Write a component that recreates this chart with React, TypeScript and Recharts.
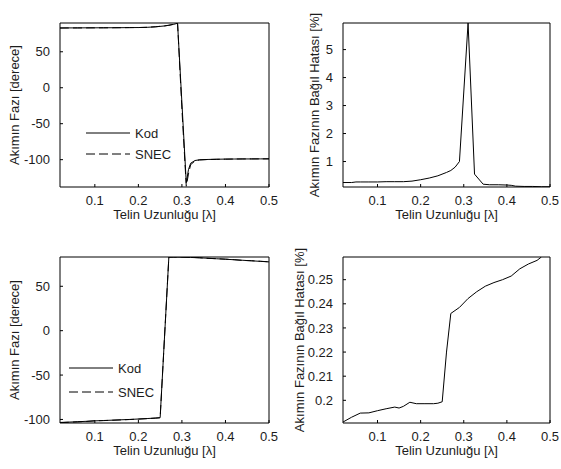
import { LineChart, Line, XAxis, YAxis, Legend, Label } from "recharts";

const FONT = "Arial, 'Liberation Sans', Helvetica, sans-serif";
const W = 561;
const H = 469;
const AX = 40;
const INK = "#1c1c1c";

// wire length [lambda] and values
const xTicks = [0.1, 0.2, 0.3, 0.4, 0.5];

const phaseAX = [0.02, 0.04, 0.06, 0.08, 0.1, 0.12, 0.14, 0.16, 0.18, 0.2, 0.22, 0.24, 0.26, 0.27, 0.28, 0.29, 0.3, 0.31, 0.315, 0.32, 0.33, 0.34, 0.36, 0.38, 0.4, 0.42, 0.44, 0.46, 0.48, 0.5];
const phaseAKod = [83.1, 83.2, 83.2, 83.3, 83.3, 83.4, 83.4, 83.5, 83.6, 83.7, 84.0, 84.7, 85.9, 86.8, 88.0, 89.6, -21, -132, -114, -105, -101.2, -100.2, -99.7, -99.4, -99.2, -99.1, -99.0, -99.0, -98.9, -98.9];
const phaseASnec = [83.0, 83.1, 83.2, 83.2, 83.3, 83.3, 83.4, 83.5, 83.6, 83.7, 84.0, 84.8, 86.0, 86.9, 88.2, 89.8, -30, -137, -120, -107, -101.8, -100.4, -99.8, -99.5, -99.3, -99.1, -99.0, -98.9, -98.9, -98.8];
const phaseTicks = [-100, -50, 0, 50];

const errAX = [0.02, 0.04, 0.05, 0.06, 0.08, 0.1, 0.12, 0.14, 0.16, 0.18, 0.2, 0.22, 0.24, 0.26, 0.27, 0.28, 0.29, 0.31, 0.325, 0.345, 0.36, 0.38, 0.4, 0.41, 0.42, 0.44, 0.46, 0.48, 0.5];
const errA = [0.25, 0.25, 0.27, 0.27, 0.27, 0.27, 0.28, 0.28, 0.28, 0.3, 0.35, 0.41, 0.49, 0.61, 0.68, 0.8, 1.0, 5.95, 0.55, 0.19, 0.17, 0.17, 0.16, 0.15, 0.12, 0.11, 0.11, 0.1, 0.1];
const errATicks = [1, 2, 3, 4, 5];

const phaseBX = [0.02, 0.04, 0.06, 0.08, 0.1, 0.12, 0.14, 0.16, 0.18, 0.2, 0.22, 0.24, 0.25, 0.27, 0.28, 0.3, 0.32, 0.34, 0.36, 0.38, 0.4, 0.42, 0.44, 0.46, 0.48, 0.5];
const phaseBKod = [-103.4, -103.0, -102.6, -102.1, -101.6, -101.2, -100.8, -100.4, -100.0, -99.5, -99.0, -98.4, -98.0, 82.8, 82.9, 82.8, 82.5, 82.1, 81.6, 81.0, 80.5, 79.9, 79.3, 78.7, 78.1, 77.5];
const phaseBSnec = [-103.6, -103.2, -102.7, -102.3, -101.5, -101.3, -100.9, -100.5, -100.1, -99.6, -99.1, -98.5, -98.1, 82.9, 83.0, 82.9, 82.6, 82.2, 81.4, 81.1, 80.6, 80.0, 79.1, 78.8, 78.2, 77.6];

const errBX = [0.02, 0.04, 0.06, 0.08, 0.1, 0.12, 0.14, 0.15, 0.16, 0.175, 0.19, 0.21, 0.23, 0.24, 0.25, 0.26, 0.27, 0.29, 0.31, 0.33, 0.35, 0.37, 0.39, 0.41, 0.43, 0.45, 0.47, 0.48];
const errB = [0.191, 0.193, 0.1947, 0.1948, 0.1957, 0.1965, 0.1972, 0.1968, 0.1975, 0.1992, 0.1986, 0.1986, 0.1986, 0.1988, 0.1994, 0.22, 0.236, 0.2385, 0.2422, 0.245, 0.2473, 0.2488, 0.25, 0.2515, 0.2545, 0.2565, 0.258, 0.2594];
const errBTicks = [0.2, 0.21, 0.22, 0.23, 0.24, 0.25];

const phaseLabel = "Akımın Fazı [derece]";
const errLabel = "Akımın Fazının Bağıl Hatası [%]";
const xLabel = "Telin Uzunluğu [λ]";

type Box = { left: number; right: number; top: number; bottom: number };
type Series = { key: string; name: string; dash?: string };

const tickStyle = { fill: INK, fontSize: 13, fontFamily: FONT };

function Panel(props: {
  box: Box;
  data: any[];
  series: Series[];
  yDomain: [number, number];
  yTicks: number[];
  yLabel: string;
  yLabelX: number;
  legend?: { left: number; top: number; gap: number };
}) {
  const { box, data, series, yDomain, yTicks, yLabel, yLabelX, legend } = props;
  const cy = (box.top + box.bottom) / 2;
  return (
    <div style={{ position: "absolute", left: 0, top: 0 }}>
      <LineChart
        width={W}
        height={H}
        data={data}
        margin={{ top: box.top - 1, left: box.left - AX, right: W - box.right - 1, bottom: H - box.bottom - AX }}
      >
        <XAxis
          xAxisId="b"
          dataKey="x"
          type="number"
          domain={[0.02, 0.5]}
          ticks={xTicks}
          allowDataOverflow
          interval={0}
          height={AX}
          tickSize={-3}
          tickMargin={11.5}
          stroke="#000"
          tick={tickStyle}
        >
          <Label
            content={() => (
              <text
                x={(box.left + box.right) / 2}
                y={box.bottom + 32}
                textAnchor="middle"
                fontSize={13}
                fontFamily={FONT}
                fill={INK}
              >
                {xLabel}
              </text>
            )}
          />
        </XAxis>
        <XAxis
          xAxisId="t"
          orientation="top"
          dataKey="x"
          type="number"
          domain={[0.02, 0.5]}
          ticks={xTicks}
          allowDataOverflow
          interval={0}
          height={1}
          tick={false}
          tickSize={-3}
          stroke="#000"
        />
        <YAxis
          yAxisId="l"
          type="number"
          domain={yDomain}
          ticks={yTicks}
          allowDataOverflow
          interval={0}
          width={AX}
          tickSize={-3}
          tickMargin={13}
          stroke="#000"
          tick={tickStyle}
        >
          <Label
            content={() => (
              <text
                x={yLabelX}
                y={cy}
                transform={`rotate(-90 ${yLabelX} ${cy})`}
                textAnchor="middle"
                fontSize={13}
                fontFamily={FONT}
                fill={INK}
              >
                {yLabel}
              </text>
            )}
          />
        </YAxis>
        <YAxis
          yAxisId="r"
          orientation="right"
          type="number"
          domain={yDomain}
          ticks={yTicks}
          allowDataOverflow
          interval={0}
          width={1}
          tick={false}
          tickSize={-3}
          stroke="#000"
        />
        {series.map((s) => (
          <Line
            key={s.key}
            xAxisId="b"
            yAxisId="l"
            dataKey={s.key}
            name={s.name}
            type="linear"
            stroke="#000"
            strokeWidth={1}
            strokeDasharray={s.dash}
            dot={false}
            isAnimationActive={false}
          />
        ))}
        {legend && (
          <Legend
            layout="vertical"
            align="center"
            verticalAlign="middle"
            wrapperStyle={{ left: legend.left, top: legend.top, width: 110, height: 60 }}
            content={({ payload }: any) => (
              <svg width={110} height={60}>
                {(payload || []).map((p: any, i: number) => {
                  const y = 11 + i * legend.gap;
                  return (
                    <g key={p.value}>
                      <line
                        x1={0}
                        x2={44}
                        y1={y}
                        y2={y}
                        stroke="#000"
                        strokeWidth={1}
                        strokeDasharray={series[i].dash}
                      />
                      <text x={49} y={y + 5} fontSize={13} fontFamily={FONT} fill={INK}>
                        {p.value}
                      </text>
                    </g>
                  );
                })}
              </svg>
            )}
          />
        )}
      </LineChart>
    </div>
  );
}

const phaseSeries: Series[] = [
  { key: "kod", name: "Kod" },
  { key: "snec", name: "SNEC", dash: "9 4" },
];
const errSeries: Series[] = [{ key: "err", name: "Hata" }];

export default function App() {
  const phaseA = phaseAX.map((x, i) => ({ x, kod: phaseAKod[i], snec: phaseASnec[i] }));
  const errAData = errAX.map((x, i) => ({ x, err: errA[i] }));
  const phaseB = phaseBX.map((x, i) => ({ x, kod: phaseBKod[i], snec: phaseBSnec[i] }));
  const errBData = errBX.map((x, i) => ({ x, err: errB[i] }));

  return (
    <div style={{ position: "absolute", left: 0, top: 0, width: W, height: H, background: "#fff" }}>
      <Panel
        box={{ left: 60, right: 269, top: 23, bottom: 187 }}
        data={phaseA}
        series={phaseSeries}
        yDomain={[-138, 90]}
        yTicks={phaseTicks}
        yLabel={phaseLabel}
        yLabelX={18.5}
        legend={{ left: 86, top: 122, gap: 21 }}
      />
      <Panel
        box={{ left: 343, right: 550, top: 23, bottom: 187 }}
        data={errAData}
        series={errSeries}
        yDomain={[0.09, 5.95]}
        yTicks={errATicks}
        yLabel={errLabel}
        yLabelX={319}
      />
      <Panel
        box={{ left: 60, right: 269, top: 257, bottom: 423 }}
        data={phaseB}
        series={phaseSeries}
        yDomain={[-104, 83]}
        yTicks={phaseTicks}
        yLabel={phaseLabel}
        yLabelX={18.5}
        legend={{ left: 69, top: 357, gap: 24 }}
      />
      <Panel
        box={{ left: 343, right: 550, top: 257, bottom: 423 }}
        data={errBData}
        series={errSeries}
        yDomain={[0.1906, 0.2594]}
        yTicks={errBTicks}
        yLabel={errLabel}
        yLabelX={304}
      />
    </div>
  );
}
